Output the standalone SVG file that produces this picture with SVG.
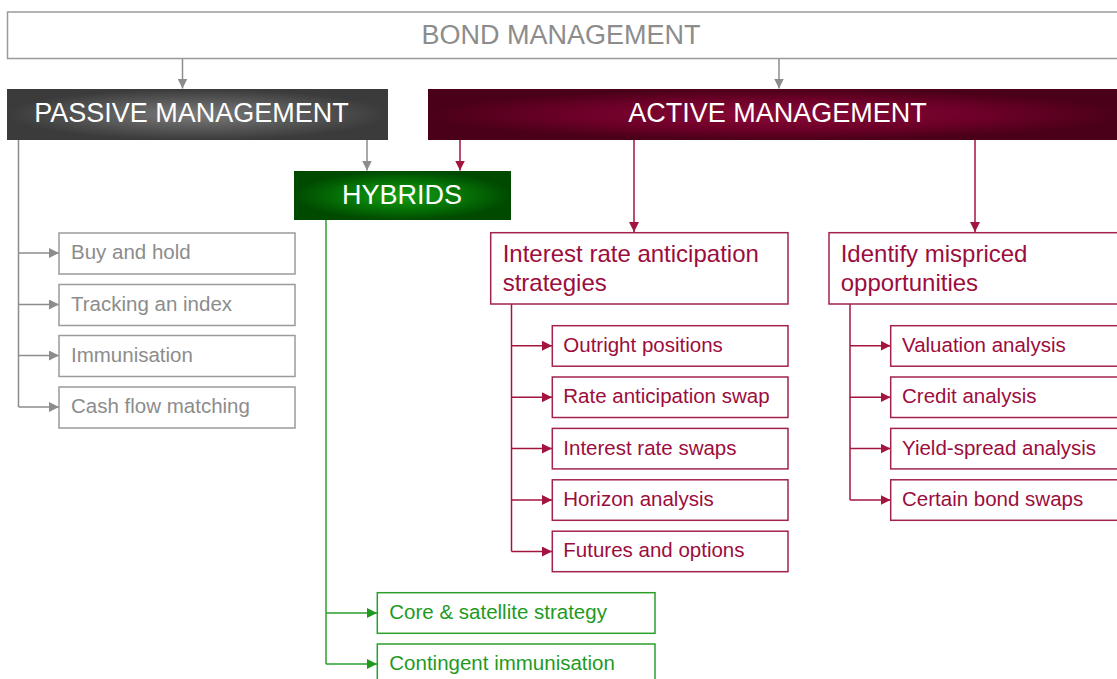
<svg xmlns="http://www.w3.org/2000/svg" width="1117" height="679" viewBox="0 0 1117 679">
<style>
text{font-family:"Liberation Sans",Arial,sans-serif}
.title{font-size:27px}
.w{fill:#ffffff}
.g{fill:#8c8c8c}
.r{fill:#9b0d3d}
.gr{fill:#1f9a1f}
.big{font-size:24px}
.sm{font-size:20.5px}
.bg{fill:#fff;stroke:#9a9a9a;stroke-width:1.5}
.br{fill:#fff;stroke:#a3234f;stroke-width:1.5}
.bgr{fill:#fff;stroke:#2aa02a;stroke-width:1.5}
.lg{fill:none;stroke:#8c8c8c;stroke-width:1.5}
.lr{fill:none;stroke:#a3143f;stroke-width:1.5}
.lgr{fill:none;stroke:#2aa02a;stroke-width:1.5}
</style>
<defs>
<marker id="ag" viewBox="0 0 10 10" refX="10" refY="5" markerWidth="10" markerHeight="10" markerUnits="userSpaceOnUse" orient="auto"><path d="M0,0 L10,5 L0,10 z" fill="#8c8c8c"/></marker>
<marker id="ar" viewBox="0 0 10 10" refX="10" refY="5" markerWidth="10" markerHeight="10" markerUnits="userSpaceOnUse" orient="auto"><path d="M0,0 L10,5 L0,10 z" fill="#a3143f"/></marker>
<marker id="agr" viewBox="0 0 10 10" refX="10" refY="5" markerWidth="10" markerHeight="10" markerUnits="userSpaceOnUse" orient="auto"><path d="M0,0 L10,5 L0,10 z" fill="#1f9a1f"/></marker>
<radialGradient id="gp" cx="0.5" cy="0.5" r="0.5">
<stop offset="0" stop-color="#7a7a7a"/><stop offset="0.6" stop-color="#555"/><stop offset="1" stop-color="#3b3b3b"/>
</radialGradient>
<radialGradient id="ga" cx="0.5" cy="0.5" r="0.5">
<stop offset="0" stop-color="#8a0a37"/><stop offset="0.6" stop-color="#6c0028"/><stop offset="1" stop-color="#4a0018"/>
</radialGradient>
<radialGradient id="gh" cx="0.5" cy="0.5" r="0.5">
<stop offset="0" stop-color="#12a012"/><stop offset="0.6" stop-color="#057005"/><stop offset="1" stop-color="#004a00"/>
</radialGradient>
</defs>

<g id="connectors">
<path class="lg" d="M182.5,58.5 V88.5" marker-end="url(#ag)"/>
<path class="lg" d="M779,58.5 V88.5" marker-end="url(#ag)"/>
<path class="lg" d="M367,140 V170.5" marker-end="url(#ag)"/>
<path class="lr" d="M460,140 V170.5" marker-end="url(#ar)"/>
<path class="lr" d="M634,140 V232" marker-end="url(#ar)"/>
<path class="lr" d="M975,140 V232" marker-end="url(#ar)"/>
<path class="lg" d="M18.5,140 V407"/>
<path class="lg" d="M18.5,253 H59" marker-end="url(#ag)"/>
<path class="lg" d="M18.5,304.5 H59" marker-end="url(#ag)"/>
<path class="lg" d="M18.5,355.5 H59" marker-end="url(#ag)"/>
<path class="lg" d="M18.5,407 H59" marker-end="url(#ag)"/>
<path class="lr" d="M511.5,304 V551.5"/>
<path class="lr" d="M511.5,345.7 H552" marker-end="url(#ar)"/>
<path class="lr" d="M511.5,397.2 H552" marker-end="url(#ar)"/>
<path class="lr" d="M511.5,448.6 H552" marker-end="url(#ar)"/>
<path class="lr" d="M511.5,500 H552" marker-end="url(#ar)"/>
<path class="lr" d="M511.5,551.5 H552" marker-end="url(#ar)"/>
<path class="lr" d="M850,304 V500"/>
<path class="lr" d="M850,345.7 H890.5" marker-end="url(#ar)"/>
<path class="lr" d="M850,397.2 H890.5" marker-end="url(#ar)"/>
<path class="lr" d="M850,448.6 H890.5" marker-end="url(#ar)"/>
<path class="lr" d="M850,500 H890.5" marker-end="url(#ar)"/>
<path class="lgr" d="M326,220 V664"/>
<path class="lgr" d="M326,613 H377" marker-end="url(#agr)"/>
<path class="lgr" d="M326,664 H377" marker-end="url(#agr)"/>
</g>

<g id="bond">
<rect x="7.5" y="12" width="1120" height="46.5" class="bg" stroke-width="1.8"/>
<text x="561" y="43.5" class="title g" text-anchor="middle">BOND MANAGEMENT</text>
</g>
<g id="passive">
<rect x="7" y="89" width="381" height="51" fill="url(#gp)"/>
<text x="191.5" y="121.5" class="title w" text-anchor="middle">PASSIVE MANAGEMENT</text>
</g>
<g id="active">
<rect x="428" y="89" width="700" height="51" fill="url(#ga)"/>
<text x="777.5" y="121.5" class="title w" text-anchor="middle">ACTIVE MANAGEMENT</text>
</g>
<g id="hybrids">
<rect x="294" y="171" width="217" height="49" fill="url(#gh)"/>
<text x="402" y="203.5" class="title w" text-anchor="middle">HYBRIDS</text>
</g>

<g id="buy-and-hold"><rect x="59" y="233" width="236" height="41" class="bg"/><text x="71" y="259.3" class="sm g">Buy and hold</text></g>
<g id="tracking-an-index"><rect x="59" y="284.5" width="236" height="41" class="bg"/><text x="71" y="310.7" class="sm g">Tracking an index</text></g>
<g id="immunisation"><rect x="59" y="335.5" width="236" height="41" class="bg"/><text x="71" y="361.8" class="sm g">Immunisation</text></g>
<g id="cash-flow-matching"><rect x="59" y="387" width="236" height="41" class="bg"/><text x="71" y="413.2" class="sm g">Cash flow matching</text></g>

<g id="interest-rate-anticipation"><rect x="490.7" y="232.7" width="297.3" height="71.3" class="br"/><text x="502.7" y="261.7" class="big r">Interest rate anticipation</text><text x="502.7" y="290.7" class="big r">strategies</text></g>
<g id="outright-positions"><rect x="552.3" y="325.7" width="235.7" height="40.5" class="br"/><text x="563.3" y="351.7" class="sm r">Outright positions</text></g>
<g id="rate-anticipation-swap"><rect x="552.3" y="377" width="235.7" height="40.5" class="br"/><text x="563.3" y="403.2" class="sm r">Rate anticipation swap</text></g>
<g id="interest-rate-swaps"><rect x="552.3" y="428.4" width="235.7" height="40.5" class="br"/><text x="563.3" y="454.6" class="sm r">Interest rate swaps</text></g>
<g id="horizon-analysis"><rect x="552.3" y="479.8" width="235.7" height="40.5" class="br"/><text x="563.3" y="506" class="sm r">Horizon analysis</text></g>
<g id="futures-and-options"><rect x="552.3" y="531.2" width="235.7" height="40.5" class="br"/><text x="563.3" y="557.4" class="sm r">Futures and options</text></g>

<g id="identify-mispriced"><rect x="829" y="232.7" width="297.3" height="71.3" class="br"/><text x="840.7" y="261.7" class="big r">Identify mispriced</text><text x="840.7" y="290.7" class="big r">opportunities</text></g>
<g id="valuation-analysis"><rect x="890.7" y="325.7" width="235.7" height="40.5" class="br"/><text x="902" y="351.7" class="sm r">Valuation analysis</text></g>
<g id="credit-analysis"><rect x="890.7" y="377" width="235.7" height="40.5" class="br"/><text x="902" y="403.2" class="sm r">Credit analysis</text></g>
<g id="yield-spread-analysis"><rect x="890.7" y="428.4" width="235.7" height="40.5" class="br"/><text x="902" y="454.6" class="sm r">Yield-spread analysis</text></g>
<g id="certain-bond-swaps"><rect x="890.7" y="479.8" width="235.7" height="40.5" class="br"/><text x="902" y="506" class="sm r">Certain bond swaps</text></g>

<g id="core-satellite"><rect x="377.3" y="592.7" width="277.7" height="40.6" class="bgr"/><text x="389.3" y="619" class="sm gr">Core &amp; satellite strategy</text></g>
<g id="contingent-immunisation"><rect x="377.3" y="644" width="277.7" height="40.6" class="bgr"/><text x="389.3" y="670" class="sm gr">Contingent immunisation</text></g>
</svg>
